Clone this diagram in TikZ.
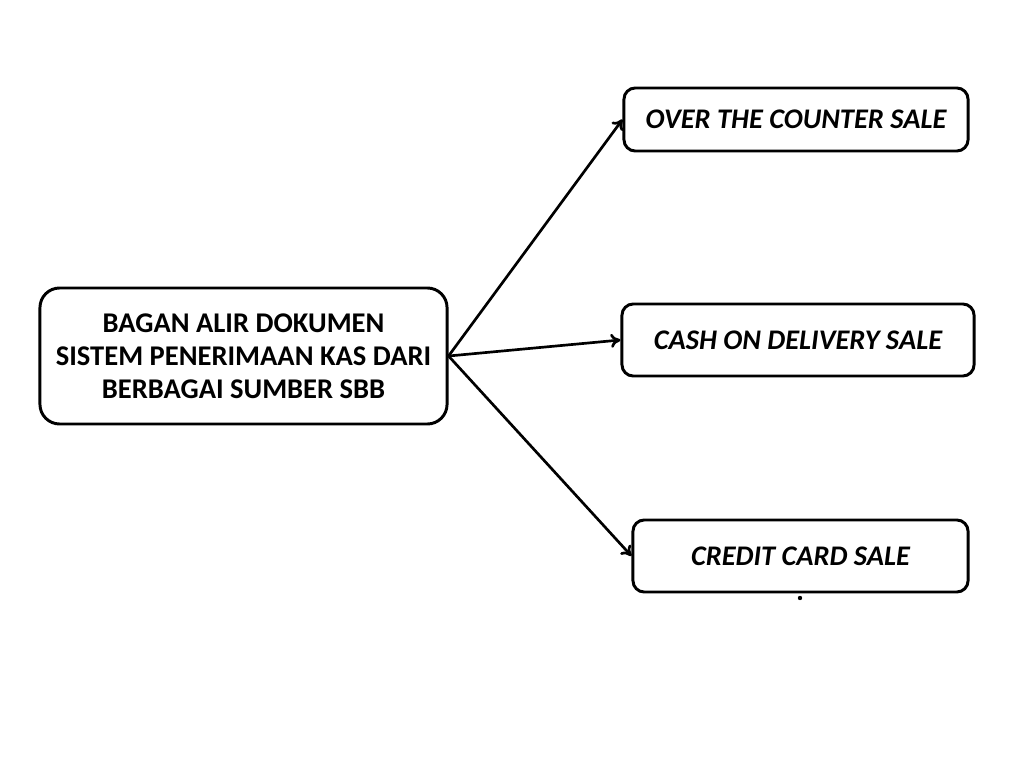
\documentclass[tikz,border=0pt]{standalone}
\usepackage{fontspec}
\setmainfont{Carlito}
\usetikzlibrary{positioning,arrows.meta}

\begin{document}
\begin{tikzpicture}[x=0.025cm, y=-0.025cm,
    main/.style = {draw, line width=2.1pt, rounded corners=14pt, align=center, font=\bfseries\fontsize{20.3}{23.5}\selectfont},
    sale/.style = {draw, line width=2.1pt, rounded corners=8pt, align=center, font=\bfseries\itshape\fontsize{20.2}{24}\selectfont},
    arr/.style = {-{To[length=7pt,width=10pt]}, line width=1.9pt}]
    \useasboundingbox (0,0) rectangle (1024,768);
    \node[main, minimum width=10.175cm, minimum height=3.4cm] (sumber) at (243.5,356) {BAGAN ALIR DOKUMEN\\SISTEM PENERIMAAN KAS DARI\\BERBAGAI SUMBER SBB};
    \node[sale, minimum width=8.6cm, minimum height=1.575cm] (counter) at (796,119.5) {OVER THE COUNTER SALE};
    \node[sale, minimum width=8.8cm, minimum height=1.8cm] (delivery) at (798,340) {CASH ON DELIVERY SALE};
    \node[sale, minimum width=8.375cm, minimum height=1.8cm] (credit) at (800.5,556) {CREDIT CARD SALE};
    \node[circle, fill, inner sep=1.1pt] (titik) at (800,598) {};

    \draw[arr] (sumber.east) -- (counter.west);
    \draw[arr] (sumber.east) -- (delivery.west);
    \draw[arr] (sumber.east) -- (credit.west);
\end{tikzpicture}
\end{document}
